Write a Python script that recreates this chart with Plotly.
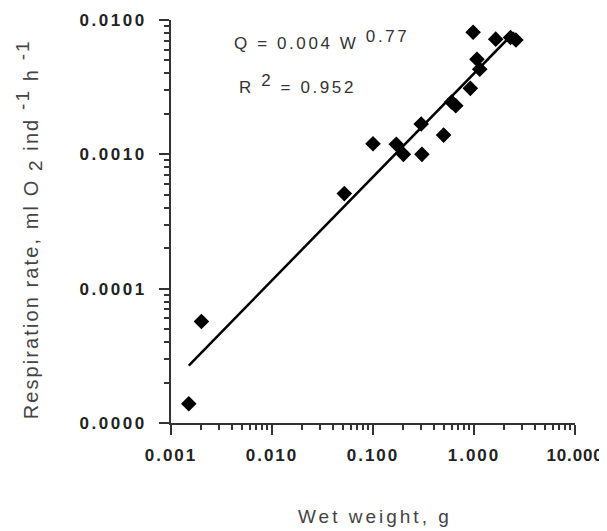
import plotly.graph_objects as go

# Data
wet_weight = [0.0015, 0.0020, 0.052, 0.10, 0.17, 0.20, 0.30, 0.305, 0.50, 0.60, 0.66,
              0.92, 0.98, 1.07, 1.14, 1.64, 2.3, 2.6]
respiration = [1.39e-5, 5.7e-5, 5.1e-4, 1.2e-3, 1.19e-3, 1.0e-3, 1.68e-3, 1.0e-3, 1.39e-3,
               2.45e-3, 2.3e-3, 3.1e-3, 8.1e-3, 5.1e-3, 4.3e-3, 7.2e-3, 7.4e-3, 7.1e-3]
fit_coef = 0.004
fit_exp = 0.77
fit_r2 = 0.952
fit_w = [0.0015, 0.005, 0.02, 0.1, 0.5, 1.0, 2.5]
fit_q = [fit_coef * w ** fit_exp for w in fit_w]

x_tickvals = [0.001, 0.01, 0.1, 1, 10]
x_ticklabels = ["0.001", "0.010", "0.100", "1.000", "10.000"]
y_tickvals = [1e-5, 1e-4, 1e-3, 1e-2]
y_ticklabels = ["0.0000", "0.0001", "0.0010", "0.0100"]
minor_digits = [2, 3, 4, 5, 6, 7, 8, 9]

FONT = "Liberation Sans, Arial, sans-serif"


def spaced(s, px):
    return f'<span style="letter-spacing:{px}px">{s}</span>'


def minor_vals(decades):
    return [d * m for d in decades for m in minor_digits]


fig = go.Figure()
fig.add_trace(go.Scatter(x=fit_w, y=fit_q, mode="lines",
                         line=dict(color="black", width=2.5), showlegend=False))
fig.add_trace(go.Scatter(x=wet_weight, y=respiration, mode="markers",
                         marker=dict(symbol="diamond", size=12, color="black"),
                         showlegend=False))

axis_common = dict(
    showgrid=False, zeroline=False, showline=True, linecolor="#333", linewidth=2,
    ticks="outside", ticklen=10, tickwidth=2, tickcolor="#333",
    tickfont=dict(family=FONT, size=17, color="#222", weight="bold"),
    ticklabeloverflow="allow",
)
minor_common = dict(ticks="outside", ticklen=5, tickwidth=2, tickcolor="#333", showgrid=False)

# the last x label sits at the page edge: tighter spacing so it stays inside
x_text = [spaced(t, 2) for t in x_ticklabels]
x_text[-1] = spaced(x_ticklabels[-1], 0.8)

fig.update_xaxes(type="log", range=[-3, 1], tickvals=x_tickvals, ticktext=x_text,
                 ticklabelstandoff=6,
                 minor=dict(tickmode="array", tickvals=minor_vals(x_tickvals[:-1]), **minor_common),
                 **axis_common)
fig.update_yaxes(type="log", range=[-5, -2], tickvals=y_tickvals,
                 ticktext=[spaced(t, 2.5) for t in y_ticklabels], ticklabelstandoff=9,
                 minor=dict(tickmode="array", tickvals=minor_vals(y_tickvals[:-1]), **minor_common),
                 **axis_common)

# axis titles
fig.add_annotation(x=0.504, y=-0.232, xref="paper", yref="paper",
                   text=spaced("Wet weight, g", 3), showarrow=False,
                   xanchor="center", yanchor="middle",
                   font=dict(family=FONT, size=19, color="#444"))
big = 'style="font-size:19px"'
ytitle = (f'Respiration rate, ml O <sub><span {big}>2</span></sub> '
          f'ind <sup><span {big}>-1</span></sup> h <sup><span {big}>-1</span></sup>')
fig.add_annotation(x=-0.352, y=0.48, xref="paper", yref="paper",
                   text=spaced(ytitle, 2.1), showarrow=False, textangle=-90,
                   xanchor="center", yanchor="middle",
                   font=dict(family=FONT, size=20, color="#444"))

# regression text
sup_big = 'style="font-size:17px"'
fig.add_annotation(x=0.151, y=0.95, xref="paper", yref="paper",
                   text=spaced(f"Q = {fit_coef} W <sup><span {sup_big}>{fit_exp}</span></sup>", 2.6),
                   showarrow=False, xanchor="left", yanchor="middle",
                   font=dict(family=FONT, size=17, color="#333"))
fig.add_annotation(x=0.163, y=0.841, xref="paper", yref="paper",
                   text=spaced(f"R <sup><span {sup_big}>2</span></sup> = {fit_r2}", 2.6),
                   showarrow=False, xanchor="left", yanchor="middle",
                   font=dict(family=FONT, size=17, color="#333"))

# the page body adds an 8 px offset; size the figure so the plot area sits where the reference has it
fig.update_layout(width=599, height=523, plot_bgcolor="white", paper_bgcolor="white",
                  margin=dict(l=163, r=32, t=12, b=108, autoexpand=False))

fig.write_html("out.html")
